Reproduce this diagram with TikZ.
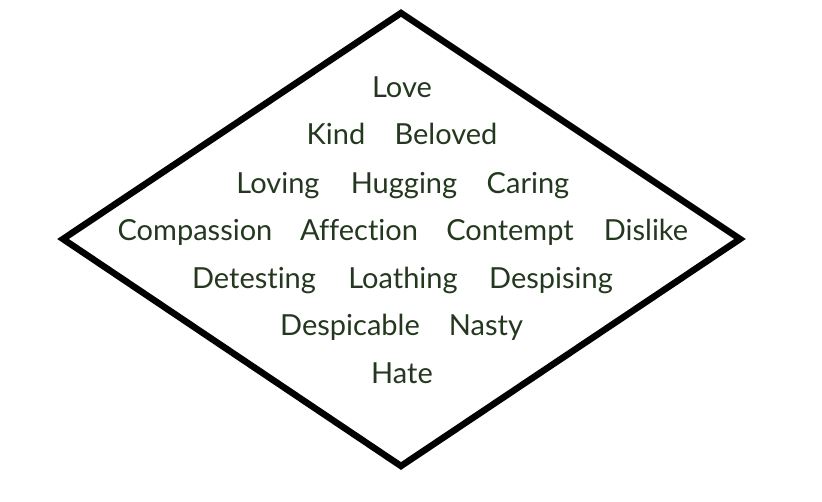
\documentclass[tikz,border=0pt]{standalone}
\usepackage{fontspec}
\setmainfont[Ligatures=NoCommon]{Lato}
\definecolor{txt}{HTML}{24381F}
\begin{document}
\begin{tikzpicture}[x=1pt,y=-1pt,
  word/.style={text=txt,font=\fontsize{29}{34}\selectfont,inner sep=0pt,anchor=base},
  frame/.style={draw=black,line width=6.5pt,line join=miter}]
\useasboundingbox (0,0) rectangle (822,501);
\coordinate (T) at (401,13);
\coordinate (R) at (740,239);
\coordinate (B) at (401,466);
\coordinate (L) at (63,239);
\draw[frame] (T) -- (R) -- (B) -- (L) -- cycle;
\node[word] (love) at (402,97.5) {Love};
\node[word] (kind) at (336,144.5) {Kind};
\node[word] (beloved) at (446,144.5) {Beloved};
\node[word] (loving) at (278,193.5) {Loving};
\node[word] (hugging) at (404,193.5) {Hugging};
\node[word] (caring) at (528,193.5) {Caring};
\node[word] (compassion) at (195,240.5) {Compassion};
\node[word] (affection) at (359,240.5) {A{}f{}fection};
\node[word] (contempt) at (510,240.5) {Contempt};
\node[word] (dislike) at (646,240.5) {Dislike};
\node[word] (detesting) at (254,288.5) {Detesting};
\node[word] (loathing) at (403,288.5) {Loathing};
\node[word] (despising) at (551,288.5) {Despising};
\node[word] (despicable) at (350,335.5) {Despicable};
\node[word] (nasty) at (486,335.5) {Nasty};
\node[word] (hate) at (402,383.5) {Hate};
\end{tikzpicture}
\end{document}
